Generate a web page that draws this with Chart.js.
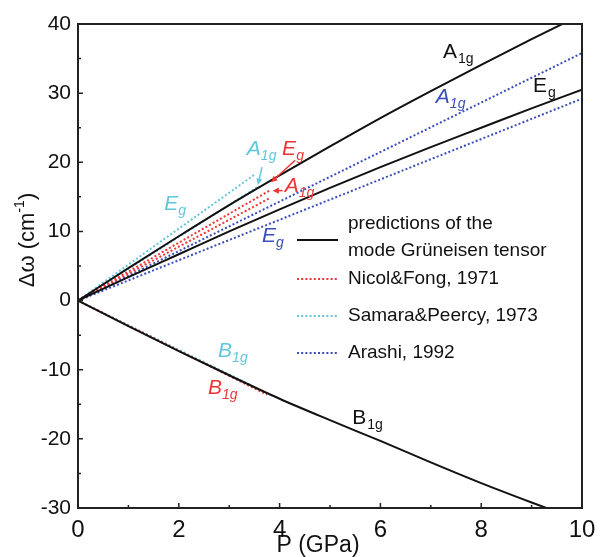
<!DOCTYPE html>
<html>
<head>
<meta charset="utf-8">
<script src="https://cdn.jsdelivr.net/npm/chart.js@4.4.0/dist/chart.umd.min.js"></script>
<style>
  html, body { margin: 0; padding: 0; background: #fff; }
</style>
</head>
<body>
<canvas id="ramanChart" width="610" height="557"></canvas>
<script>
// Pressure axis (GPa) for the calculated curves
const pressure = [0, 1, 2, 3, 4, 5, 6, 7, 8, 9, 10];

// predictions of the mode Grüneisen tensor (cm-1)
const gruneisenA1g = [0, 4.7, 9.3, 13.8, 18.1, 22.3, 26.4, 30.3, 34.1, 37.8, 41.4];
const gruneisenEg = [0, 3.4, 6.7, 10.0, 13.2, 16.3, 19.3, 22.2, 25.0, 27.8, 30.5];
const gruneisenB1g = [0, -3.7, -7.3, -10.8, -14.2, -17.3, -20.3, -23.4, -26.4, -29.2, -31.9];

// Nicol&Fong, 1971
const nicolP = [0, 3.8];
const nicolEg = [0, 15.9];
const nicolA1g = [0, 14.8];
const nicolB1gP = [0, 3.75];
const nicolB1g = [0, -13.6];

// Samara&Peercy, 1973
const samaraEgP = [0, 3.5];
const samaraEg = [0, 18.2];
const samaraA1gP = [0, 3.6];
const samaraA1g = [0, 16.6];
const samaraB1gP = [0, 3.45];
const samaraB1g = [0, -12.3];

// Arashi, 1992
const arashiP = [0, 10];
const arashiA1g = [0, 35.8];
const arashiEg = [0, 29.2];

// axis ticks
const xTicks = [0, 2, 4, 6, 8, 10];
const yTicks = [-30, -20, -10, 0, 10, 20, 30, 40];

const RED = "#ee3535";
const CYAN = "#62c6dc";
const BLUE = "#3a4dbb";
const FONT = "'Liberation Sans', Arial, sans-serif";

function toPoints(xs, ys) {
  return xs.map((x, i) => ({ x: x, y: ys[i] }));
}

function solid(data) {
  return { data: data, borderColor: "#111", borderWidth: 2, pointRadius: 0, cubicInterpolationMode: "monotone", fill: false };
}

function dotted(data, color) {
  return { data: data, borderColor: color, borderWidth: 2, borderDash: [2, 2.2], pointRadius: 0, fill: false };
}

// Text labels on the plot (in data units)
const modeLabels = [
  { p: 7.24, w: 35.1, main: "A", sub: "1g", color: "#111", italic: false },
  { p: 9.03, w: 30.2, main: "E", sub: "g", color: "#111", italic: false },
  { p: 5.44, w: -17.8, main: "B", sub: "1g", color: "#111", italic: false },
  { p: 7.10, w: 28.6, main: "A", sub: "1g", color: BLUE, italic: true },
  { p: 3.65, w: 8.5, main: "E", sub: "g", color: BLUE, italic: true },
  { p: 3.35, w: 21.1, main: "A", sub: "1g", color: CYAN, italic: true },
  { p: 1.71, w: 13.1, main: "E", sub: "g", color: CYAN, italic: true },
  { p: 2.78, w: -8.1, main: "B", sub: "1g", color: CYAN, italic: true },
  { p: 4.05, w: 21.1, main: "E", sub: "g", color: RED, italic: true },
  { p: 4.10, w: 15.7, main: "A", sub: "1g", color: RED, italic: true },
  { p: 2.58, w: -13.5, main: "B", sub: "1g", color: RED, italic: true },
];

const arrows = [
  { from: [3.65, 19.3], to: [3.57, 16.7], color: CYAN },
  { from: [4.31, 20.3], to: [3.83, 17.1], color: RED },
  { from: [4.06, 15.9], to: [3.86, 15.9], color: RED },
];

const legendItems = [
  { text: ["predictions of the", "mode Grüneisen tensor"], color: "#111", dash: [] },
  { text: ["Nicol&Fong, 1971"], color: RED, dash: [2, 2.2] },
  { text: ["Samara&Peercy, 1973"], color: CYAN, dash: [2, 2.2] },
  { text: ["Arashi, 1992"], color: BLUE, dash: [2, 2.2] },
];

function drawArrow(ctx, x1, y1, x2, y2, color) {
  const ang = Math.atan2(y2 - y1, x2 - x1);
  const head = 7;
  ctx.save();
  ctx.strokeStyle = color;
  ctx.fillStyle = color;
  ctx.lineWidth = 1.5;
  ctx.beginPath();
  ctx.moveTo(x1, y1);
  ctx.lineTo(x2 - Math.cos(ang) * head * 0.8, y2 - Math.sin(ang) * head * 0.8);
  ctx.stroke();
  ctx.beginPath();
  ctx.moveTo(x2, y2);
  ctx.lineTo(x2 - head * Math.cos(ang - 0.45), y2 - head * Math.sin(ang - 0.45));
  ctx.lineTo(x2 - head * Math.cos(ang + 0.45), y2 - head * Math.sin(ang + 0.45));
  ctx.closePath();
  ctx.fill();
  ctx.restore();
}

const decorPlugin = {
  id: "decor",
  afterDraw(chart) {
    const ctx = chart.ctx;
    const area = chart.chartArea;
    const xs = chart.scales.x;
    const ys = chart.scales.y;
    ctx.save();

    // frame
    ctx.strokeStyle = "#222";
    ctx.lineWidth = 2;
    ctx.strokeRect(area.left, area.top, area.right - area.left, area.bottom - area.top);

    // inward ticks
    ctx.lineWidth = 1.5;
    ctx.beginPath();
    for (let v = -30; v <= 40; v += 5) {
      const y = ys.getPixelForValue(v);
      const len = v % 10 === 0 ? 5 : 3;
      ctx.moveTo(area.left, y);
      ctx.lineTo(area.left + len, y);
    }
    for (let v = 0; v <= 10; v += 1) {
      const x = xs.getPixelForValue(v);
      const len = v % 2 === 0 ? 5 : 3;
      ctx.moveTo(x, area.bottom);
      ctx.lineTo(x, area.bottom - len);
    }
    ctx.stroke();

    // mode labels
    ctx.textBaseline = "alphabetic";
    ctx.textAlign = "left";
    modeLabels.forEach((l) => {
      const x = xs.getPixelForValue(l.p);
      const y = ys.getPixelForValue(l.w);
      const style = l.italic ? "italic " : "";
      ctx.fillStyle = l.color;
      ctx.font = style + "21px " + FONT;
      ctx.fillText(l.main, x, y);
      const w = ctx.measureText(l.main).width;
      ctx.font = style + "14px " + FONT;
      ctx.fillText(l.sub, x + w + (l.italic ? 0 : 1), y + 5);
    });

    arrows.forEach((a) => {
      drawArrow(ctx,
        xs.getPixelForValue(a.from[0]), ys.getPixelForValue(a.from[1]),
        xs.getPixelForValue(a.to[0]), ys.getPixelForValue(a.to[1]), a.color);
    });

    // legend
    const lx0 = 297, lx1 = 338, tx = 348;
    const rows = [240, 279, 316, 353];
    ctx.font = "19px " + FONT;
    ctx.textBaseline = "middle";
    legendItems.forEach((item, i) => {
      const y = rows[i];
      ctx.strokeStyle = item.color;
      ctx.lineWidth = 2;
      ctx.setLineDash(item.dash);
      ctx.beginPath();
      ctx.moveTo(lx0, y);
      ctx.lineTo(lx1, y);
      ctx.stroke();
      ctx.setLineDash([]);
      ctx.fillStyle = "#111";
      if (item.text.length === 2) {
        ctx.fillText(item.text[0], tx, y - 16);
        ctx.fillText(item.text[1], tx, y + 11);
      } else {
        ctx.fillText(item.text[0], tx, y);
      }
    });

    // axis titles
    ctx.fillStyle = "#111";
    ctx.font = "23px " + FONT;
    ctx.textAlign = "center";
    ctx.textBaseline = "middle";
    ctx.fillText("P (GPa)", 318, 546);

    ctx.translate(28, 240);
    ctx.rotate(-Math.PI / 2);
    const partA = "\u0394\u03c9 (cm";
    const partB = "-1";
    const partC = ")";
    ctx.font = "22px " + FONT;
    const wA = ctx.measureText(partA).width;
    const wC = ctx.measureText(partC).width;
    ctx.font = "14px " + FONT;
    const wB = ctx.measureText(partB).width;
    let x = -(wA + wB + wC) / 2;
    ctx.textAlign = "left";
    ctx.font = "22px " + FONT;
    ctx.fillText(partA, x, 0);
    ctx.font = "14px " + FONT;
    ctx.fillText(partB, x + wA, -8);
    ctx.font = "22px " + FONT;
    ctx.fillText(partC, x + wA + wB, 0);

    ctx.restore();
  },
};

new Chart(document.getElementById("ramanChart"), {
  type: "line",
  data: {
    datasets: [
      solid(toPoints(pressure, gruneisenA1g)),
      solid(toPoints(pressure, gruneisenEg)),
      solid(toPoints(pressure, gruneisenB1g)),
      dotted(toPoints(nicolP, nicolEg), RED),
      dotted(toPoints(nicolP, nicolA1g), RED),
      dotted(toPoints(nicolB1gP, nicolB1g), RED),
      dotted(toPoints(samaraEgP, samaraEg), CYAN),
      dotted(toPoints(samaraA1gP, samaraA1g), CYAN),
      dotted(toPoints(samaraB1gP, samaraB1g), CYAN),
      dotted(toPoints(arashiP, arashiA1g), BLUE),
      dotted(toPoints(arashiP, arashiEg), BLUE),
    ],
  },
  options: {
    responsive: false,
    animation: false,
    layout: { padding: { top: 24, right: 28, left: 0, bottom: 0 } },
    plugins: { legend: { display: false }, tooltip: { enabled: false } },
    scales: {
      x: {
        type: "linear",
        min: 0,
        max: 10,
        afterBuildTicks: (scale) => { scale.ticks = xTicks.map((v) => ({ value: v })); },
        afterFit: (scale) => { scale.height = 49; },
        grid: { display: false, drawTicks: false },
        border: { display: false },
        ticks: { padding: 8, color: "#111", font: { family: FONT, size: 24 } },
      },
      y: {
        type: "linear",
        min: -30,
        max: 40,
        afterBuildTicks: (scale) => { scale.ticks = yTicks.map((v) => ({ value: v })); },
        afterFit: (scale) => { scale.width = 78; },
        grid: { display: false, drawTicks: false },
        border: { display: false },
        ticks: { padding: 7, color: "#111", font: { family: FONT, size: 21 } },
      },
    },
  },
  plugins: [decorPlugin],
});
</script>
</body>
</html>
